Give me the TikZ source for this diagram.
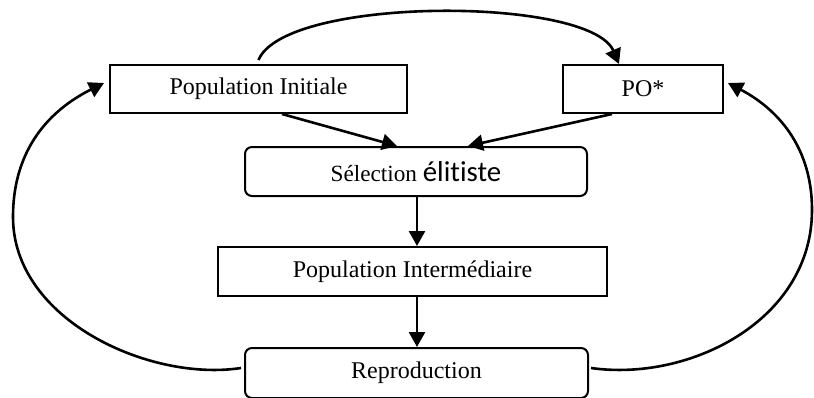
\documentclass[tikz,border=0pt]{standalone}
\usepackage{fontspec}
\setmainfont{Liberation Serif}
\newfontfamily\calibrifont[Ligatures=NoCommon]{Carlito}
\usetikzlibrary{arrows.meta}
\begin{document}
\begin{tikzpicture}[x=0.5pt,y=-0.5pt,
  box/.style={draw,line width=1pt,inner sep=0pt,minimum height=24.5pt,
    font=\fontsize{12}{14}\selectfont},
  roundbox/.style={box,rounded corners=3.5pt},
  link/.style={line width=1.3pt,-{Triangle[length=7.5pt,width=8pt]}}]
\useasboundingbox (0,0) rectangle (814,397);

% stages of the loop
\node[box,minimum width=148.5pt,minimum height=24pt] (pi) at (258.5,89) {Population Initiale};
\node[box,minimum width=80pt,minimum height=24pt] (po) at (643,89) {PO*};
\node[roundbox,minimum width=171pt] (sel) at (416,171.5)
  {\raisebox{-3.2pt}{\fontsize{11.6}{13}\selectfont S\'election {\calibrifont\fontsize{14.4}{16}\selectfont \'elitiste}}};
\node[box,minimum width=194.5pt] (pint) at (412.5,271.5) {Population Interm\'ediaire};
\node[roundbox,minimum width=171.5pt,minimum height=25pt] (rep) at (416.5,373) {Reproduction};

% main flow
\draw[link] ([xshift=11.75pt]pi.south) -- ([xshift=-9.5pt]sel.north);
\draw[link] ([xshift=-15.5pt]po.south) -- ([xshift=26pt]sel.north);
\draw[link] ([xshift=0.5pt]sel.south) -- ([xshift=0.5pt]sel.south |- pint.north);
\draw[link] ([xshift=0.5pt]sel.south |- pint.south) -- ([xshift=0.5pt]sel.south |- rep.north);

% feedback arcs
\draw[link] ([yshift=2pt]pi.north) .. controls (285,-4) and (590,-4) .. ([xshift=-12pt]po.north);
\draw[link] ([xshift=-1.5pt,yshift=2.5pt]rep.west) .. controls (150,382) and (13,320) .. (13,217)
  .. controls (13,140) and (60,105) .. ([xshift=-2.5pt,yshift=3pt]pi.west);
\draw[link] ([xshift=1pt,yshift=2.5pt]rep.east) .. controls (690,382) and (812,320) .. (812,210)
  .. controls (812,140) and (770,105) .. ([xshift=2pt,yshift=3pt]po.east);
\end{tikzpicture}
\end{document}
